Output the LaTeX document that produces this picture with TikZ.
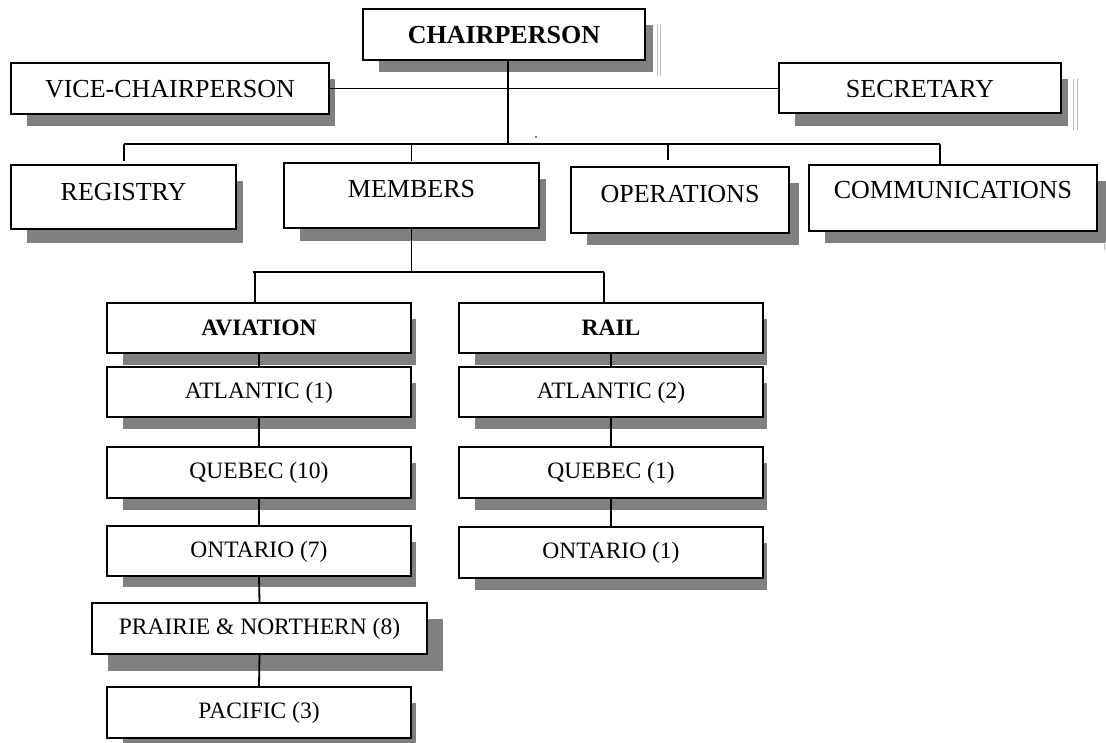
\documentclass[tikz,border=0pt]{standalone}
\usepackage{fontspec}
\setmainfont{Liberation Serif}
\definecolor{shadowgray}{HTML}{808080}
\pgfdeclarelayer{bg}
\pgfsetlayers{bg,main}
\tikzset{
  box/.style={draw=black, line width=2.2pt, fill=white, inner sep=0pt, outer sep=0pt,
    anchor=north west, font=\fontsize{23.5}{28}\selectfont},
  big/.style={font=\fontsize{26}{30}\selectfont},
  bigb/.style={font=\fontsize{26}{30}\selectfont\bfseries},
  smallb/.style={font=\fontsize{23.5}{28}\selectfont\bfseries},
  plain/.style={},
  shade/.style={fill=shadowgray},
  wire/.style={line width=1.8pt},
  ghost/.style={draw=gray!55, line width=0.6pt}
}
% #1 name, #2 style, #3 x1, #4 y1, #5 x2, #6 y2, #7 baseline from top, #8 text
\newcommand\obox[8]{%
  \pgfmathsetmacro\obw{#5-#3}%
  \pgfmathsetmacro\obd{#6-#4-#7}%
  \node[box,#2,minimum width=\obw pt,text height=#7pt,text depth=\obd pt] (#1) at (#3,#4) {#8};%
}
\newcommand\oshadow[3]{%
  \begin{pgfonlayer}{bg}
  \fill[shade] ([shift={(16,16)}]#1.north west) rectangle ([shift={(#2,#3)}]#1.south east);
  \end{pgfonlayer}%
}
\begin{document}
\begin{tikzpicture}[x=1pt,y=-1pt]
\useasboundingbox (0,0) rectangle (1106,742);
% top level
\obox{chair}{bigb}{363}{9}{645}{60}{34}{CHAIRPERSON}
\obox{vice}{big}{11}{63}{329}{114}{34}{VICE-CHAIRPERSON}
\obox{sec}{big}{779}{63}{1061}{113}{34}{SECRETARY}
% second row
\obox{reg}{big}{11}{165}{236}{229}{35}{REGISTRY}
\obox{mem}{big}{284}{163}{539}{228}{34}{MEMBERS}
\obox{ops}{big}{571}{167}{789}{233}{35}{OPERATIONS}
\obox{comm}{big}{809}{165}{1097}{231}{33}{COMMUNICATIONS}
% aviation column
\obox{avi}{smallb}{107}{303}{411}{353}{32}{AVIATION}
\obox{a1}{plain}{107}{367}{411}{417}{31}{ATLANTIC (1)}
\obox{a2}{plain}{107}{447}{411}{498}{31}{QUEBEC (10)}
\obox{a3}{plain}{107}{526}{411}{576}{31}{ONTARIO (7)}
\obox{a4}{plain}{92}{603}{427}{654}{31}{PRAIRIE \& NORTHERN (8)}
\obox{a5}{plain}{107}{687}{411}{738}{31}{PACIFIC (3)}
% rail column
\obox{rail}{smallb}{459}{303}{763}{353}{32}{RAIL}
\obox{r1}{plain}{459}{367}{763}{417}{31}{ATLANTIC (2)}
\obox{r2}{plain}{459}{447}{763}{498}{31}{QUEBEC (1)}
\obox{r3}{plain}{459}{527}{763}{578}{31}{ONTARIO (1)}
% shadows
\oshadow{chair}{8}{12}
\oshadow{vice}{6}{12}
\oshadow{sec}{7}{13}
\oshadow{reg}{7}{14}
\oshadow{mem}{7}{13}
\oshadow{ops}{10}{12}
\oshadow{comm}{9}{12}
\oshadow{avi}{5}{12}
\oshadow{a1}{5}{12}
\oshadow{a2}{5}{12}
\oshadow{a3}{5}{11}
\oshadow{a4}{16}{17}
\oshadow{a5}{5}{12}
\oshadow{rail}{4}{12}
\oshadow{r1}{4}{12}
\oshadow{r2}{4}{12}
\oshadow{r3}{4}{12}
% connectors
\coordinate (busC) at (508,144);
\coordinate (busL) at (124,144);
\coordinate (busR) at (940,144);
\coordinate (opsdrop) at (668,144);
\coordinate (b2L) at (253,272);
\coordinate (b2R) at (604,272);
\coordinate (avidrop) at (255,272);
\draw[wire] (vice.east) -- (vice.east -| sec.west);
\draw[wire] (chair.south -| busC) -- (busC);
\draw[wire] (busL) -- (busR);
\draw[wire] (busL) -- ([yshift=4pt]reg.north -| busL);
\draw[wire] (mem.north |- busL) -- ([yshift=2pt]mem.north);
\draw[wire] (opsdrop) -- ([yshift=7pt]ops.north -| opsdrop);
\draw[wire] (busR) -- (comm.north -| busR);
\draw[wire] (mem.south) -- (mem.south |- b2L);
\draw[wire] (b2L) -- (b2R);
\draw[wire] (avidrop) -- (avi.north -| avidrop);
\draw[wire] (b2R) -- (rail.north -| b2R);
\draw[wire] (avi.south) -- (a1.north);
\draw[wire] (a1.south) -- (a2.north);
\draw[wire] (a2.south) -- (a3.north);
\draw[wire] (a3.south) -- (a4.north);
\draw[wire] (a4.south) -- (a5.north);
\draw[wire] (rail.south) -- (r1.north);
\draw[wire] (r1.south) -- (r2.north);
\draw[wire] (r2.south) -- (r3.north);
% small artefacts
\fill (536,137) circle (0.9pt);
\draw[ghost] (657,25) -- (657,76);
\draw[ghost] (660,25) -- (660,76);
\draw[ghost] (1073,79) -- (1073,130);
\draw[ghost] (1077,79) -- (1077,130);
\draw[ghost] (1104,242) -- (1104,250);
\end{tikzpicture}
\end{document}
